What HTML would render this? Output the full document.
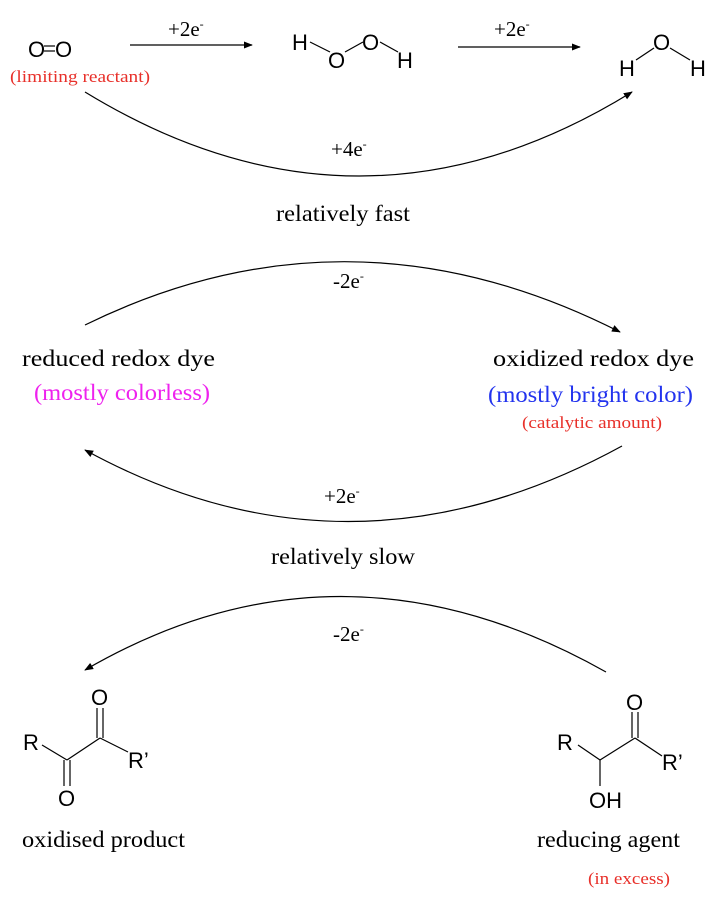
<!DOCTYPE html>
<html><head><meta charset="utf-8"><style>
html,body{margin:0;padding:0;background:#fff}
svg{display:block}
.s{font-family:"Liberation Serif",serif;fill:#000}
.a{font-family:"Liberation Sans",sans-serif;fill:#000;font-size:22px}
</style></head><body>
<svg width="717" height="900" viewBox="0 0 717 900" xmlns="http://www.w3.org/2000/svg">
<defs><marker id="ar" viewBox="0 0 10 10" refX="9" refY="5" markerWidth="9" markerHeight="9" markerUnits="userSpaceOnUse" orient="auto"><path d="M0,1 L10,5 L0,9 z" fill="#000"/></marker></defs>
<g stroke="#000" stroke-width="1.2" fill="none">
<line x1="130" y1="45" x2="252" y2="45" marker-end="url(#ar)"/>
<line x1="458" y1="47" x2="580" y2="47" marker-end="url(#ar)"/>
<path d="M85,92 Q360,260 632,92" marker-end="url(#ar)"/>
<path d="M85,325 Q350,195 620,332" marker-end="url(#ar)"/>
<path d="M622,446 Q350,595 85,450" marker-end="url(#ar)"/>
<path d="M606,672 Q340,522 85,670" marker-end="url(#ar)"/>
<line x1="44" y1="46" x2="55" y2="46"/><line x1="44" y1="51" x2="55" y2="51"/>
<line x1="310" y1="42" x2="330" y2="52"/><line x1="345" y1="52" x2="363" y2="42"/><line x1="380" y1="42" x2="398" y2="52"/>
<line x1="636" y1="60" x2="654" y2="48"/><line x1="670" y1="48" x2="690" y2="60"/>
<line x1="42" y1="745" x2="67" y2="760"/><line x1="67" y1="760" x2="100" y2="738"/><line x1="100" y1="738" x2="128" y2="752"/>
<line x1="97" y1="738" x2="97" y2="708"/><line x1="103" y1="738" x2="103" y2="708"/>
<line x1="64" y1="760" x2="64" y2="786"/><line x1="70" y1="760" x2="70" y2="786"/>
<line x1="578" y1="745" x2="600" y2="760"/><line x1="600" y1="760" x2="635" y2="738"/><line x1="635" y1="738" x2="662" y2="756"/>
<line x1="600" y1="760" x2="600" y2="786"/>
<line x1="632" y1="738" x2="632" y2="712"/><line x1="638" y1="738" x2="638" y2="712"/>
</g>
<text class="a" x="28" y="57">O</text><text class="a" x="55" y="57">O</text>
<text class="s" x="10" y="82" font-size="17" textLength="140" lengthAdjust="spacingAndGlyphs" style="fill:#e8302a">(limiting reactant)</text>
<text class="s" x="168" y="36" font-size="21">+2e<tspan font-size="12" dy="-8">-</tspan></text>
<text class="s" x="494" y="36" font-size="21">+2e<tspan font-size="12" dy="-8">-</tspan></text>
<text class="a" x="292" y="50">H</text><text class="a" x="328" y="68">O</text><text class="a" x="362" y="50">O</text><text class="a" x="397" y="68">H</text>
<text class="a" x="619" y="76">H</text><text class="a" x="653" y="50">O</text><text class="a" x="690" y="76">H</text>
<text class="s" x="331" y="156" font-size="21">+4e<tspan font-size="12" dy="-8">-</tspan></text>
<text class="s" x="276" y="221" font-size="23" textLength="134" lengthAdjust="spacingAndGlyphs">relatively fast</text>
<text class="s" x="333" y="288" font-size="21">-2e<tspan font-size="12" dy="-8">-</tspan></text>
<text class="s" x="22" y="366" font-size="23" textLength="193" lengthAdjust="spacingAndGlyphs">reduced redox dye</text>
<text class="s" x="34" y="400" font-size="23" textLength="176" lengthAdjust="spacingAndGlyphs" style="fill:#ee22ee">(mostly colorless)</text>
<text class="s" x="493" y="366" font-size="23" textLength="201" lengthAdjust="spacingAndGlyphs">oxidized redox dye</text>
<text class="s" x="488" y="402" font-size="23" textLength="205" lengthAdjust="spacingAndGlyphs" style="fill:#2233ee">(mostly bright color)</text>
<text class="s" x="522" y="428" font-size="17" textLength="140" lengthAdjust="spacingAndGlyphs" style="fill:#e8302a">(catalytic amount)</text>
<text class="s" x="324" y="503" font-size="21">+2e<tspan font-size="12" dy="-8">-</tspan></text>
<text class="s" x="271" y="564" font-size="23" textLength="144" lengthAdjust="spacingAndGlyphs">relatively slow</text>
<text class="s" x="333" y="641" font-size="21">-2e<tspan font-size="12" dy="-8">-</tspan></text>
<text class="a" x="23" y="750">R</text><text class="a" x="91" y="705">O</text><text class="a" x="128" y="768">R’</text><text class="a" x="58" y="806">O</text>
<text class="a" x="557" y="750">R</text><text class="a" x="626" y="710">O</text><text class="a" x="662" y="770">R’</text><text class="a" x="589" y="808">OH</text>
<text class="s" x="22" y="847" font-size="23" textLength="163" lengthAdjust="spacingAndGlyphs">oxidised product</text>
<text class="s" x="537" y="847" font-size="23" textLength="143" lengthAdjust="spacingAndGlyphs">reducing agent</text>
<text class="s" x="588" y="884" font-size="17" textLength="82" lengthAdjust="spacingAndGlyphs" style="fill:#e8302a">(in excess)</text>
</svg>
</body></html>
